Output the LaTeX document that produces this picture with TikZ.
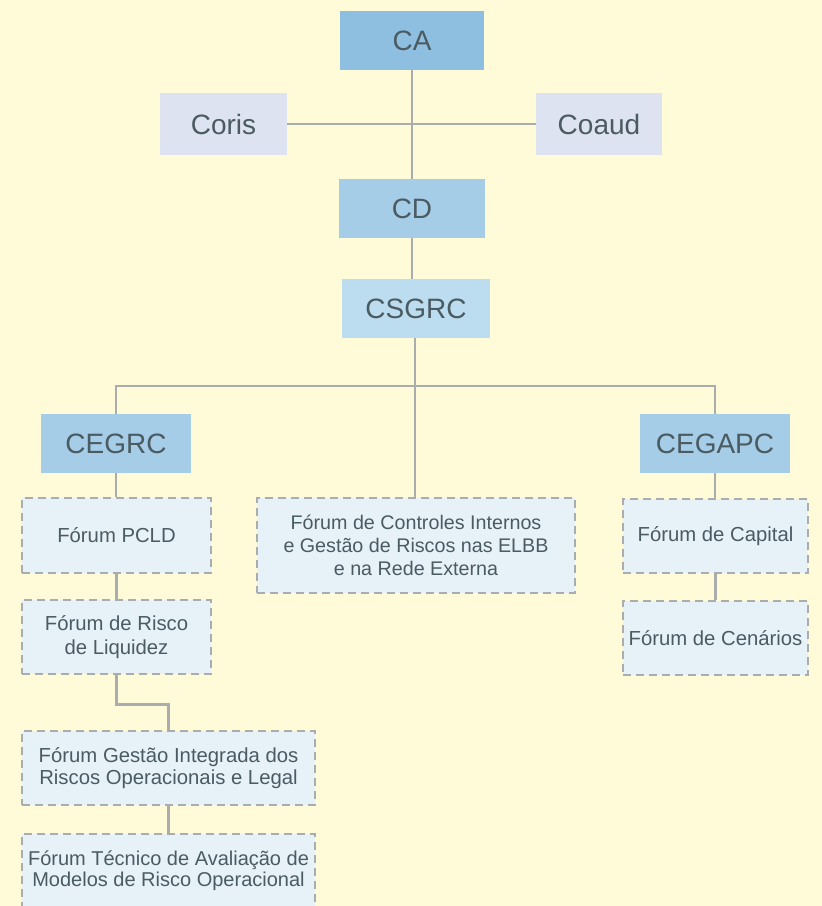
\documentclass[tikz,border=0pt]{standalone}
\usepackage{fontspec}
\setmainfont{Liberation Sans}
\usepackage{xcolor}
\usetikzlibrary{positioning}

\definecolor{bgyellow}{HTML}{FFFBD9}
\definecolor{caBlue}{HTML}{8EBFE0}
\definecolor{cdBlue}{HTML}{A6CDE8}
\definecolor{csBlue}{HTML}{BCDCEF}
\definecolor{coGray}{HTML}{DDE3F0}
\definecolor{forumFill}{HTML}{E7F1F8}
\definecolor{lineGray}{HTML}{A9ADAD}
\definecolor{textGray}{HTML}{4B5B62}

\begin{document}
\begin{tikzpicture}[x=1pt,y=-1pt,
    box/.style={rectangle,inner sep=0pt,text=textGray,
        font=\fontsize{28}{32}\selectfont},
    forum/.style={rectangle,inner sep=0pt,text=textGray,align=center,
        fill=forumFill,draw=lineGray,line width=2.5pt,dash pattern=on 8pt off 5pt,
        font=\fontsize{20.3}{23.5}\selectfont},
    link/.style={draw=lineGray,line width=2.5pt}]

        \fill[bgyellow] (0,0) rectangle (822,906);
        \useasboundingbox (0,0) rectangle (822,906);

        %top
        \node[box,fill=caBlue,minimum width=144pt,minimum height=59pt] (ca) at (412,40.5) {CA};
        \node[box,fill=coGray,minimum width=127pt,minimum height=62pt] (coris) at (223.5,124) {Coris};
        \node[box,fill=coGray,minimum width=126pt,minimum height=62pt] (coaud) at (599,124) {Coaud};
        \node[box,fill=cdBlue,minimum width=146pt,minimum height=59pt] (cd) at (412,208.5) {CD};
        \node[box,fill=csBlue,minimum width=148pt,minimum height=59pt] (csgrc) at (416,308.5) {CSGRC};

        %committees
        \node[box,fill=cdBlue,minimum width=150pt,minimum height=59pt] (cegrc) at (116,443.5) {CEGRC};
        \node[box,fill=cdBlue,minimum width=150pt,minimum height=59pt] (cegapc) at (715,443.5) {CEGAPC};

        %left forums
        \node[forum,minimum width=189pt,minimum height=75pt] (pcld) at (116.5,535.5) {Fórum PCLD};
        \node[forum,minimum width=189pt,minimum height=74pt] (risco) at (116.5,637) {Fórum de Risco\\de Liquidez};
        \node[forum,minimum width=293pt,minimum height=74pt,font=\fontsize{20.3}{21.3}\selectfont] (gestao) at (168.5,768) {Fórum Gestão Integrada dos\\Riscos Operacionais e Legal};
        \node[forum,minimum width=293pt,minimum height=74pt,font=\fontsize{20}{20.7}\selectfont] (tecnico) at (168.5,871) {Fórum Técnico de Avaliação de\\Modelos de Risco Operacional};

        %middle forum
        \node[forum,minimum width=318pt,minimum height=95pt,font=\fontsize{19.7}{23.3}\selectfont] (fci) at (416,545.5) {Fórum de Controles Internos\\e Gestão de Riscos nas ELBB\\e na Rede Externa};

        %right forums
        \node[forum,minimum width=185pt,minimum height=74pt] (capital) at (715.5,536) {Fórum de Capital};
        \node[forum,minimum width=185pt,minimum height=74pt] (cenarios) at (715.5,638) {Fórum de Cenários};

        \coordinate (bus) at (415,386);

        %links
        \draw[link] (ca.south) -- (cd.north);
        \draw[link] (coris.east) -- (coaud.west);
        \draw[link] (cd.south) -- (cd.south |- csgrc.north);
        \draw[link] (bus |- csgrc.south) -- (bus);
        \draw[link] (cegrc.north) |- (bus) -| (cegapc.north);
        \draw[link] (bus) -- (bus |- fci.north);
        \draw[link] (cegrc.south) -- (cegrc.south |- pcld.north);
        \draw[link] (pcld.south) -- (risco.north);
        \draw[link] (risco.south) -- ++(0,29) -| (gestao.north);
        \draw[link] (gestao.south) -- (tecnico.north);
        \draw[link] (cegapc.south) -- (cegapc.south |- capital.north);
        \draw[link] (capital.south) -- (cenarios.north);

\end{tikzpicture}
\end{document}
